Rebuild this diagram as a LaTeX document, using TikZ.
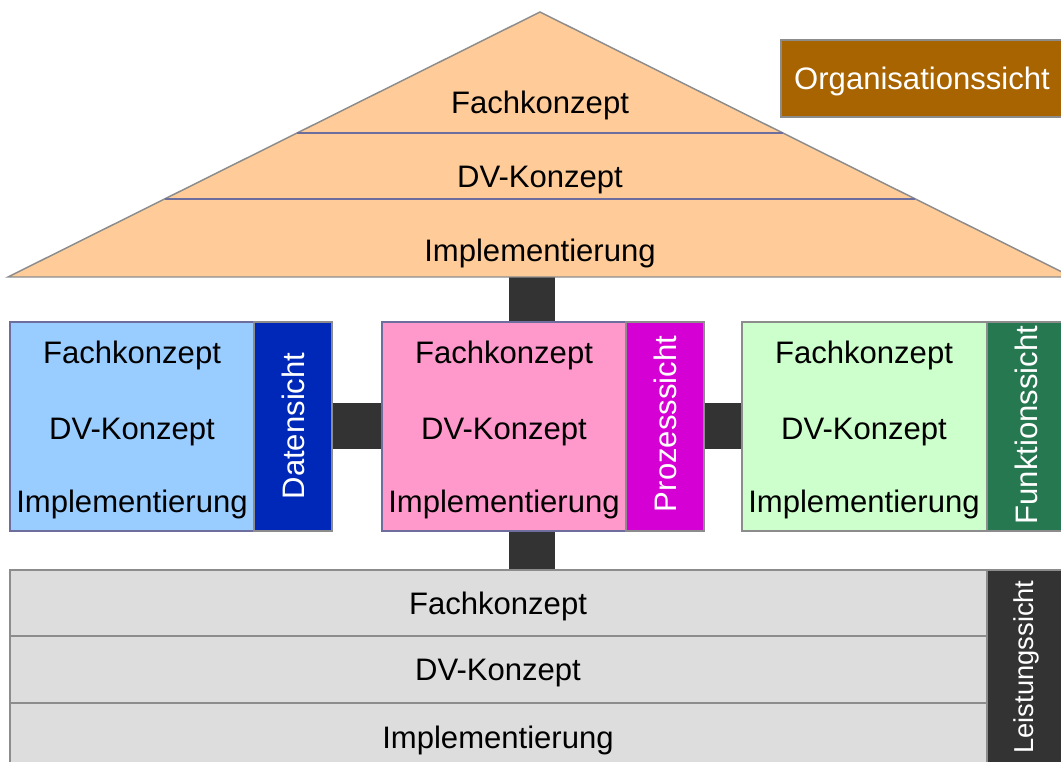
\documentclass[tikz,border=0pt]{standalone}
\usepackage{fontspec}
\setmainfont{Liberation Sans}
\usetikzlibrary{fit,calc}

\definecolor{roof}{HTML}{FFCC99}
\definecolor{frame}{HTML}{8C8C8C}
\definecolor{layerline}{HTML}{6E6E9E}
\definecolor{orgbrown}{HTML}{A86400}
\definecolor{datfill}{HTML}{99CCFF}
\definecolor{datbar}{HTML}{0028B8}
\definecolor{prozfill}{HTML}{FF99CC}
\definecolor{prozbar}{HTML}{D400D4}
\definecolor{funkfill}{HTML}{CCFFCC}
\definecolor{funkbar}{HTML}{267850}
\definecolor{leistfill}{HTML}{DDDDDD}
\definecolor{darkbar}{HTML}{333333}

\begin{document}
\begin{tikzpicture}[x=0.75pt,y=-0.75pt,
  txt/.style={font=\fontsize{23.3}{28}\selectfont, inner sep=0pt, anchor=center},
  lbl/.style={txt, yshift=-2pt},
  vlbl/.style={txt, text=white, rotate=90},
  box/.style={inner sep=0pt, draw=frame, line width=1.1pt},
  conn/.style={draw=darkbar, line width=34.5pt},
  divider/.style={draw=layerline, line width=1.4pt}]

\useasboundingbox (0,0) rectangle (1061,762);
\clip (0,0) rectangle (1061,762);

% roof of the house: the organisation view
\coordinate (apex) at (540,12);
\coordinate (bl) at (8,277);
\coordinate (br) at (1072,277);
\coordinate (axis) at (532,0);

% view boxes
\node[box, fit={(10,322) (254,531)}, fill=datfill, draw=layerline] (dat) {};
\node[box, fit={(254,322) (332,531)}, fill=datbar] (datS) {};
\node[box, fit={(382,322) (626,531)}, fill=prozfill, draw=layerline] (proz) {};
\node[box, fit={(626,322) (704,531)}, fill=prozbar] (prozS) {};
\node[box, fit={(742,322) (987,531)}, fill=funkfill] (funk) {};
\node[box, fit={(987,322) (1066,531)}, fill=funkbar] (funkS) {};
\node[box, fit={(10,570) (987,636)}, fill=leistfill] (row1) {};
\node[box, fit={(10,636) (987,703)}, fill=leistfill] (row2) {};
\node[box, fit={(10,703) (987,770)}, fill=leistfill] (row3) {};
\node[box, fit={(987,570) (1066,770)}, fill=darkbar] (leistS) {};

% connecting bars
\draw[conn] (bl -| axis) -- (proz.north -| axis);
\draw[conn] (proz.south -| axis) -- (row1.north -| axis);
\draw[conn] (datS.east) -- (proz.west);
\draw[conn] (prozS.east) -- (funk.west);

\filldraw[fill=roof, draw=frame, line width=1.1pt] (apex) -- (bl) -- (br) -- cycle;
\draw[divider] ($(apex)!0.4566!(bl)$) -- ($(apex)!0.4566!(br)$);
\draw[divider] ($(apex)!0.7057!(bl)$) -- ($(apex)!0.7057!(br)$);

\node[lbl] (rF) at (540,103) {Fachkonzept};
\node[lbl] (rD) at (540,177) {DV-Konzept};
\node[lbl] (rI) at (540,251) {Implementierung};

\node[box, fit={(781,40) (1066,117)}, fill=orgbrown] (org) {};
\node[lbl, text=white] (orgT) at (922,79) {Organisationssicht};

% data view
\node[lbl] (dF) at (132,353) {Fachkonzept};
\node[lbl] (dD) at (132,429) {DV-Konzept};
\node[lbl] (dI) at (132,502) {Implementierung};
\node[vlbl] (dT) at (293,426) {Datensicht};

% process view
\node[lbl] (pF) at (504,353) {Fachkonzept};
\node[lbl] (pD) at (504,429) {DV-Konzept};
\node[lbl] (pI) at (504,502) {Implementierung};
\node[vlbl] (pT) at (665,424) {Prozesssicht};

% function view
\node[lbl] (fF) at (864,353) {Fachkonzept};
\node[lbl] (fD) at (864,429) {DV-Konzept};
\node[lbl] (fI) at (864,502) {Implementierung};
\node[vlbl] (fT) at (1026,425) {Funktionssicht};

% output view
\node[lbl] (lF) at (498,604) {Fachkonzept};
\node[lbl] (lD) at (498,670) {DV-Konzept};
\node[lbl] (lI) at (498,738) {Implementierung};
\node[vlbl, font=\fontsize{20.5}{24}\selectfont] (lT) at (1026,667) {Leistungssicht};
\end{tikzpicture}
\end{document}
